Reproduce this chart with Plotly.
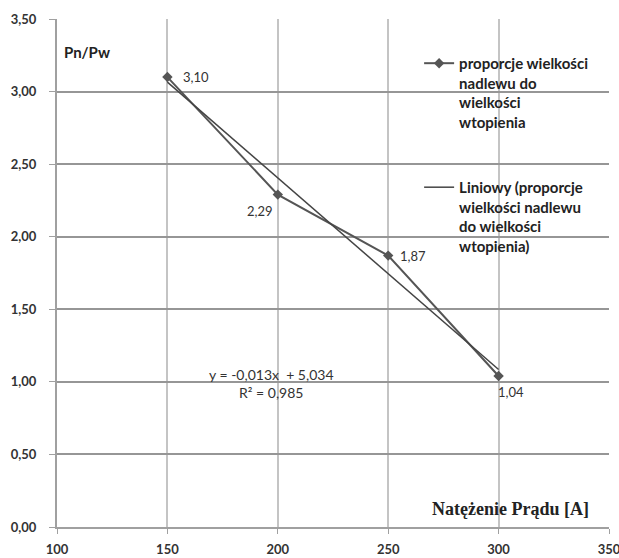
import numpy as np
import plotly.graph_objects as go

# Current [A] and ratio of reinforcement size to penetration size
current = [150, 200, 250, 300]
ratio = [3.10, 2.29, 1.87, 1.04]
point_labels = ["3,10", "2,29", "1,87", "1,04"]
label_pos = [(29, 0), (-18, -16), (25, 0), (12, -16)]  # (xshift, yshift) px

x_ticks = [100, 150, 200, 250, 300, 350]
y_ticks = [0, 0.5, 1.0, 1.5, 2.0, 2.5, 3.0, 3.5]

# Linear trend line through the series
slope, intercept = np.polyfit(current, ratio, 1)
trend_x = np.array([min(current), max(current)])
trend_y = slope * trend_x + intercept

FONT = "Lato"
DARK = "#555555"

fig = go.Figure()
fig.add_trace(go.Scatter(
    x=current, y=ratio, mode="lines+markers",
    line=dict(color=DARK, width=2),
    marker=dict(symbol="diamond", size=8, color=DARK),
    legendgroup="data",
    name="proporcje wielkości<br>nadlewu do<br>wielkości<br>wtopienia",
))
fig.add_trace(go.Scatter(
    x=trend_x, y=trend_y, mode="lines",
    line=dict(color="#444444", width=1.5),
    legendgroup="trend",
    name="Liniowy (proporcje<br>wielkości nadlewu<br>do wielkości<br>wtopienia)",
))

for xv, yv, txt, (dx, dy) in zip(current, ratio, point_labels, label_pos):
    fig.add_annotation(x=xv, y=yv, text=txt, showarrow=False,
                       xshift=dx, yshift=dy,
                       font=dict(family=FONT, size=13, color="#333333"))

fig.add_annotation(xref="paper", yref="paper", x=0.009, y=0.935,
                   xanchor="left", yanchor="middle", showarrow=False,
                   text="<b>Pn/Pw</b>",
                   font=dict(family=FONT, size=15, color="#222222"))
fig.add_annotation(xref="paper", yref="paper", x=0.968, y=0.035,
                   xanchor="right", yanchor="middle", showarrow=False,
                   text="<b>Natężenie Prądu [A]</b>",
                   font=dict(family="Liberation Serif", size=18, color="#222222"))
fig.add_annotation(x=197, y=0.99, showarrow=False,
                   text="y = -0,013x  + 5,034<br>R² = 0,985",
                   align="center",
                   font=dict(family=FONT, size=14, color="#333333"))

fig.update_layout(
    width=619, height=558,
    margin=dict(l=57, r=10, t=19, b=31),
    paper_bgcolor="white", plot_bgcolor="white",
    separators=", ",
    showlegend=True,
    legend=dict(
        x=0.656, y=0.945, xanchor="left", yanchor="top",
        bgcolor="rgba(255,255,255,0)",
        font=dict(family=FONT, size=15, color="#222222", weight="bold"),
        valign="top", tracegroupgap=43,
        itemwidth=30,
    ),
    xaxis=dict(
        range=[100, 350], tickvals=x_ticks, ticktext=[str(v) for v in x_ticks],
        showgrid=True, gridcolor="#c4c4c4", gridwidth=2,
        showline=True, linecolor="#a0a0a0", linewidth=2,
        ticks="outside", ticklen=5, tickcolor="#a0a0a0",
        ticklabelstandoff=4, automargin=False,
        ticklabeloverflow="allow",
        tickfont=dict(family=FONT, size=13, color="#333333", weight="bold"),
        zeroline=False,
    ),
    yaxis=dict(
        range=[0, 3.5], tickvals=y_ticks, tickformat=".2f",
        showgrid=True, gridcolor="#969696", gridwidth=2,
        showline=True, linecolor="#a0a0a0", linewidth=2,
        ticks="outside", ticklen=6, tickcolor="#a0a0a0",
        ticklabelstandoff=10, automargin=False,
        ticklabeloverflow="allow",
        tickfont=dict(family=FONT, size=13, color="#333333", weight="bold"),
        zeroline=False,
    ),
)

fig.write_html("out.html")
